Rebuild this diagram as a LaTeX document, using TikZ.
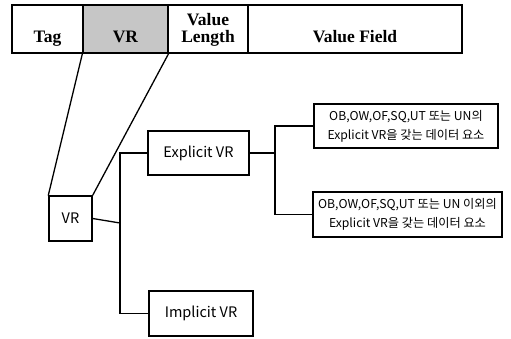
\documentclass[tikz,border=0pt]{standalone}
\usepackage{fontspec}
\setmainfont{Liberation Serif}
\newfontfamily\kr{Noto Sans CJK KR}
\usepackage{tikz}
\usetikzlibrary{arrows.meta}

\tikzset{
  cell/.style={draw,line width=1.2pt,minimum height=48pt,inner sep=0pt,
    font=\fontsize{17.5}{15}\selectfont\bfseries},
  vrbox/.style={draw,line width=1.4pt,inner sep=0pt,align=center,
    font=\kr\fontsize{14.5}{17}\selectfont},
  thickbox/.style={vrbox,line width=2pt},
  note/.style={thickbox,font=\kr\fontsize{12.2}{19}\selectfont},
  link/.style={line width=1.3pt}
}
% baseline of the (last) line 13pt below the cell centre
\newcommand{\low}[1]{\raisebox{-13pt}[0pt][0pt]{#1}}

\begin{document}
\begin{tikzpicture}[x=1pt,y=-1pt,line cap=round]
\useasboundingbox (0,0) rectangle (511,338);
% element header
\node[cell,minimum width=71pt] (tag) at (47.5,29) {\low{Tag}};
\node[cell,minimum width=85pt,fill=gray!45] (vr) at (125.5,29) {\low{VR}};
\node[cell,minimum width=80pt] (vlen) at (208,29)
  {\low{\begin{tabular}[b]{@{}c@{}}Value\\Length\end{tabular}}};
\node[cell,minimum width=214pt] (vfield) at (355,29) {\low{Value Field}};
% tree
\node[vrbox,minimum width=43pt,minimum height=45pt] (vrnode) at (70.5,218.5) {VR};
\node[thickbox,minimum width=101pt,minimum height=44pt] (explicit) at (198.5,153) {Explicit VR};
\node[vrbox,line width=1.7pt,minimum width=104pt,minimum height=45pt] (implicit) at (201,313.5) {Implicit VR};
\node[note,minimum width=184pt,minimum height=44pt] (special) at (406,126) {OB,OW,OF,SQ,UT 또는 UN의\\Explicit VR을 갖는 데이터 요소};
\node[note,minimum width=189pt,minimum height=45pt] (other) at (407.5,214.5) {OB,OW,OF,SQ,UT 또는 UN 이외의\\Explicit VR을 갖는 데이터 요소};
\coordinate (split) at (120,223);
\coordinate (split2) at (275,153);
\draw[link] (vr.south west) -- (vrnode.north west);
\draw[link] (vr.south east) -- (vrnode.north east);
\draw[link] (vrnode.east) -- (split);
\draw[link] (explicit.west) -| (split) |- (implicit.west);
\draw[link] (explicit.east) -- (split2);
\draw[link] (special.west) -| (split2) |- (other.west);
\end{tikzpicture}
\end{document}
